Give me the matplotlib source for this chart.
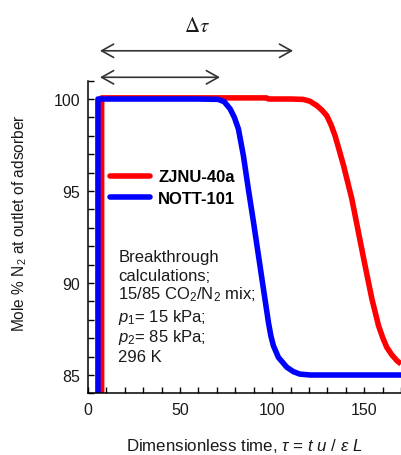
import matplotlib
matplotlib.use("Agg")
import matplotlib.pyplot as plt
from matplotlib.ticker import MultipleLocator

plt.rcParams["font.family"] = ["Liberation Sans", "DejaVu Sans"]
plt.rcParams["mathtext.fontset"] = "custom"
plt.rcParams["mathtext.rm"] = "Liberation Sans"
plt.rcParams["mathtext.it"] = "Liberation Sans:italic"
plt.rcParams["mathtext.bf"] = "Liberation Sans:bold"

# breakthrough curves
tau_zjnu = [7.4, 7.4, 60, 97, 98, 110, 116.8, 120.5, 124.3, 127, 129.7, 132,
            134.2, 136.5, 138.8, 141, 143.3, 146.9, 150.5, 154.2, 157.8, 160,
            162.3, 165, 167.8, 170]
n2_zjnu = [84, 100.06, 100.06, 100.06, 100.0, 100.0, 99.98, 99.88, 99.64, 99.4,
           99.09, 98.6, 98.0, 97.2, 96.38, 95.5, 94.57, 92.75, 90.94, 89.13,
           87.68, 87.05, 86.5, 86.1, 85.78, 85.6]

tau_nott = [5.4, 5.4, 60, 70.7, 74, 77.2, 79.5, 81.7, 84.4, 87.1, 89.9, 92.6,
            95.3, 98.0, 99.3, 100.7, 103.4, 108, 111.6, 115, 120.7, 170]
n2_nott = [84, 100, 100, 99.98, 99.85, 99.46, 99.0, 98.37, 96.92, 95.1, 93.3,
           91.48, 89.67, 87.86, 87.14, 86.59, 85.96, 85.42, 85.18, 85.05, 85.0,
           85.0]

labels = ["ZJNU-40a", "NOTT-101"]

# breakthrough time spans shown by the arrows
span_long = (6.5, 111.4)
span_short = (6.5, 71.7)

notes = ["Breakthrough", "calculations;", "15/85 CO$_2$/N$_2$ mix;",
         "$p_1$= 15 kPa;", "$p_2$= 85 kPa;", "296 K"]
note_y = [91.18, 90.18, 89.18, 87.93, 86.85, 85.74]

fig = plt.figure(figsize=(4.01, 4.56), dpi=100)
ax = fig.add_axes([88 / 401, 1 - 394.4 / 456, 313 / 401, 312.8 / 456])

ax.plot(tau_zjnu, n2_zjnu, color="#ff0000", lw=4, label=labels[0],
        solid_capstyle="butt", solid_joinstyle="round")
ax.plot(tau_nott, n2_nott, color="#0000ff", lw=4, label=labels[1],
        solid_capstyle="round", solid_joinstyle="round")

ax.set_xlim(0, 170)
ax.set_ylim(84, 101)
ax.xaxis.set_major_locator(MultipleLocator(50))
ax.xaxis.set_minor_locator(MultipleLocator(10))
ax.yaxis.set_major_locator(MultipleLocator(5))
ax.yaxis.set_minor_locator(MultipleLocator(1))
ax.tick_params(which="both", direction="in", length=4.3, width=1,
               labelsize=11.5, labelcolor="#1a1a1a")
ax.tick_params(axis="x", pad=6.3)
ax.tick_params(axis="y", pad=5.6)
for side in ["top", "right"]:
    ax.spines[side].set_visible(False)
for side in ["left", "bottom"]:
    ax.spines[side].set_linewidth(1.1)

ax.set_xlabel(r"Dimensionless time, $\tau$ = $t$ $u$ / $\varepsilon$ $L$",
              fontsize=12.2, color="#1a1a1a", va="top")
ax.xaxis.set_label_coords(0.5, -0.136)
ax.set_ylabel("Mole % N$_2$ at outlet of adsorber", fontsize=11.2,
              color="#1a1a1a")
ax.yaxis.set_label_coords(-0.19, 0.546)

leg = ax.legend(loc="center left", bbox_to_anchor=(0.0703, 0.658),
                frameon=False, borderpad=0, borderaxespad=0,
                handlelength=2.4, handletextpad=0.5, labelspacing=0.38,
                prop={"weight": "bold", "size": 12})
for h in leg.get_lines():
    h.set_linewidth(4)
    h.set_solid_capstyle("round")

for txt, yv in zip(notes, note_y):
    ax.text(16.5, yv, txt, fontsize=12, color="#1a1a1a", va="baseline")

arrow = dict(arrowstyle="<->,head_length=0.86,head_width=0.48",
             mutation_scale=10, lw=1.2, color="#333333",
             shrinkA=0, shrinkB=0)
ax.annotate("", xy=(span_long[1], 102.62), xytext=(span_long[0], 102.62),
            arrowprops=arrow, annotation_clip=False)
ax.annotate("", xy=(span_short[1], 101.18), xytext=(span_short[0], 101.18),
            arrowprops=arrow, annotation_clip=False)
ax.text(59.2, 103.71, r"$\Delta\tau$", math_fontfamily="stix", fontsize=15,
        ha="center", va="baseline", color="#1a1a1a")

fig.savefig("out.png", dpi=100)
